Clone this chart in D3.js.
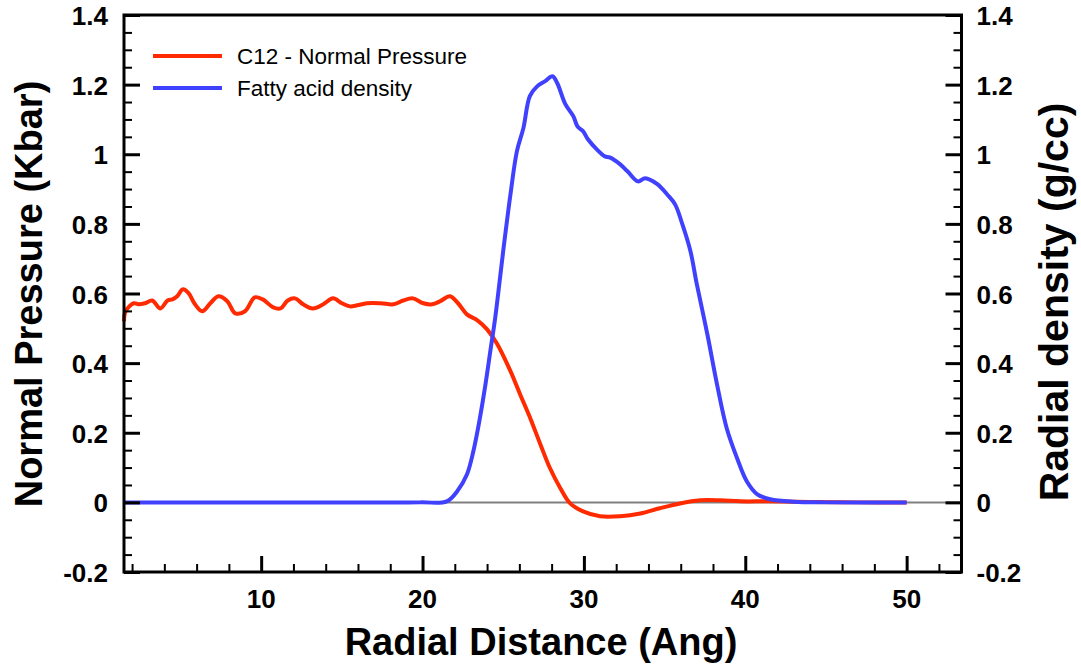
<!DOCTYPE html>
<html>
<head>
<meta charset="utf-8">
<script src="https://cdn.jsdelivr.net/npm/d3@7"></script>
<style>
	body	{ margin:0; background:#fff; }
	text	{ font-family:"Liberation Sans", Arial, Helvetica, sans-serif; fill:#000; }
</style>
</head>
<body>
<div id="chart"></div>
<script>
// C12 normal pressure (Kbar) vs radial distance (Ang)
var	pressureR	= [1.5,1.6,2.1,2.4,2.8,3.25,3.75,4.2,4.5,4.8,5.15,5.5,5.9,6.35,6.85,7.35,7.9,8.4,9.0,9.6,10.1,10.75,11.2,11.65,12.1,12.6,13.2,13.85,14.45,15.0,15.5,15.95,16.55,17.4,18.2,18.8,19.4,20.05,20.6,21.1,21.7,22.2,22.75,23.4,24.0,24.6,25.4,26.05,26.7,27.3,27.9,28.55,29.15,29.95,31.0,32.25,33.5,34.7,35.95,37.2,38.45,39.7,41.5,44,47,50];
var	pressureVal	= [0.52,0.549,0.572,0.569,0.572,0.58,0.557,0.58,0.583,0.592,0.612,0.601,0.569,0.549,0.572,0.592,0.578,0.543,0.549,0.589,0.583,0.56,0.557,0.58,0.586,0.569,0.557,0.569,0.586,0.572,0.563,0.566,0.572,0.572,0.569,0.58,0.586,0.572,0.569,0.578,0.592,0.572,0.54,0.523,0.497,0.457,0.382,0.31,0.239,0.167,0.098,0.04,-0.003,-0.026,-0.04,-0.04,-0.032,-0.017,-0.003,0.006,0.006,0.003,0.003,0.001,0,0];
// fatty acid radial density (g/cc)
var	densityR	= [1.5,10,19.85,21.5,22.15,22.75,23.15,23.55,23.9,24.2,24.5,24.8,25.0,25.45,25.85,26.25,26.65,27.1,27.6,28.05,28.35,28.85,29.35,29.6,29.95,30.25,30.8,31.3,31.6,32.25,32.7,33.35,33.8,34.55,35.15,35.65,36.1,36.6,37.0,37.65,38.25,38.85,39.5,40.1,40.75,41.55,43,45,50];
var	densityVal	= [0,0,0,0.003,0.032,0.08,0.147,0.241,0.339,0.434,0.529,0.644,0.722,0.885,1.009,1.075,1.167,1.195,1.21,1.224,1.204,1.144,1.109,1.08,1.066,1.043,1.014,0.994,0.991,0.971,0.951,0.922,0.931,0.914,0.885,0.856,0.799,0.722,0.626,0.483,0.339,0.213,0.126,0.06,0.023,0.009,0.002,0,0];

var	xTicks		= [10,20,30,40,50];
var	xMinor		= [2,4,6,8,12,14,16,18,22,24,26,28,32,34,36,38,42,44,46,48,52];
var	yTicks		= [-0.2,0,0.2,0.4,0.6,0.8,1,1.2,1.4];
var	yTickLabels	= ["-0.2","0","0.2","0.4","0.6","0.8","1","1.2","1.4"];
var	seriesNames	= ["C12 - Normal Pressure","Fatty acid density"];

var	W = 1081, H = 667,
	margin	= {top: 15, right: 119.5, bottom: 95, left: 124},
	colors	= ["#ff2a00","#4040ff"];

var	x	= d3.scaleLinear().domain([1.5, 53.4]).range([margin.left, W-margin.right]),
	y	= d3.scaleLinear().domain([-0.2, 1.4]).range([H-margin.bottom, margin.top]),
	line	= d3.line().curve(d3.curveCatmullRom.alpha(0.5))
			.x(function(d) { return x(d[0]); })
			.y(function(d) { return y(d[1]); });

var	svg	= d3.select("#chart").append("svg").attr("width", W).attr("height", H);
svg.append("rect").attr("width", W).attr("height", H).attr("fill", "#fff");

var	x0 = x.range()[0], x1 = x.range()[1], y0 = y.range()[0], y1 = y.range()[1];

// zero line
svg.append("line").attr("x1", x0).attr("x2", x1).attr("y1", y(0)).attr("y2", y(0))
	.attr("stroke", "#808080").attr("stroke-width", 2);

// curves
var	pressure = pressureR.map(function(r, i) { return [r, pressureVal[i]]; }),
	density	 = densityR.map(function(r, i) { return [r, densityVal[i]]; });
svg.append("path").attr("d", line(pressure)).attr("fill", "none")
	.attr("stroke", colors[0]).attr("stroke-width", 4).attr("stroke-linejoin", "round");
svg.append("path").attr("d", line(density)).attr("fill", "none")
	.attr("stroke", colors[1]).attr("stroke-width", 4).attr("stroke-linejoin", "round");

// axes: ticks point inward
function ticks(g, ax, vals, size, sw) {
	g.call(ax.tickValues(vals).tickSize(size).tickSizeOuter(0).tickFormat(""));
	g.select(".domain").remove();
	g.selectAll(".tick line").attr("stroke", "#000").attr("stroke-width", sw);
	g.selectAll(".tick text").remove();
}
svg.append("g").attr("transform", "translate(0," + y0 + ")").call(ticks, d3.axisTop(x), xMinor, 8, 2);
svg.append("g").attr("transform", "translate(0," + y0 + ")").call(ticks, d3.axisTop(x), xTicks, 16, 3);
var	yMinor = d3.range(-0.15, 1.4, 0.05).filter(function(v) { return Math.abs(v*5 - Math.round(v*5)) > 0.01; });
[x0, x1].forEach(function(px, k) {
	var a = k ? d3.axisLeft(y) : d3.axisRight(y);
	svg.append("g").attr("transform", "translate(" + px + ",0)").call(ticks, a, yMinor, 8, 2);
	svg.append("g").attr("transform", "translate(" + px + ",0)").call(ticks, a, yTicks, 16, 3);
});

// frame
svg.append("rect").attr("x", x0).attr("y", y1).attr("width", x1-x0).attr("height", y0-y1)
	.attr("fill", "none").attr("stroke", "#000").attr("stroke-width", 3);

// tick labels
svg.append("g").selectAll("text").data(xTicks).enter().append("text")
	.attr("x", function(d) { return x(d); }).attr("y", 608)
	.attr("text-anchor", "middle").attr("font-size", 26).attr("font-weight", "bold")
	.text(function(d) { return d; });
svg.append("g").selectAll("text").data(yTicks).enter().append("text")
	.attr("x", x0-16).attr("y", function(d) { return y(d) + 10; })
	.attr("text-anchor", "end").attr("font-size", 26).attr("font-weight", "bold")
	.text(function(d, i) { return yTickLabels[i]; });
svg.append("g").selectAll("text").data(yTicks).enter().append("text")
	.attr("x", x1+15).attr("y", function(d) { return y(d) + 10; })
	.attr("text-anchor", "start").attr("font-size", 26).attr("font-weight", "bold")
	.text(function(d, i) { return yTickLabels[i]; });

// axis titles
svg.append("text").attr("x", 541).attr("y", 655).attr("text-anchor", "middle")
	.attr("font-size", 38).attr("font-weight", "bold").text("Radial Distance (Ang)");
svg.append("text").attr("transform", "translate(42,294) rotate(-90)").attr("text-anchor", "middle")
	.attr("font-size", 38).attr("font-weight", "bold").text("Normal Pressure (Kbar)");
svg.append("text").attr("transform", "translate(1068,302) rotate(-90)").attr("text-anchor", "middle")
	.attr("font-size", 41).attr("font-weight", "bold").text("Radial density (g/cc)");

// legend
var	leg = svg.append("g").selectAll("g").data(seriesNames).enter().append("g")
		.attr("transform", function(d, i) { return "translate(0," + (i*32) + ")"; });
leg.append("line").attr("x1", 153).attr("x2", 222).attr("y1", 56).attr("y2", 56)
	.attr("stroke", function(d, i) { return colors[i]; }).attr("stroke-width", 4);
leg.append("text").attr("x", 237).attr("y", 64).attr("font-size", 22.5)
	.text(function(d) { return d; });
</script>
</body>
</html>
